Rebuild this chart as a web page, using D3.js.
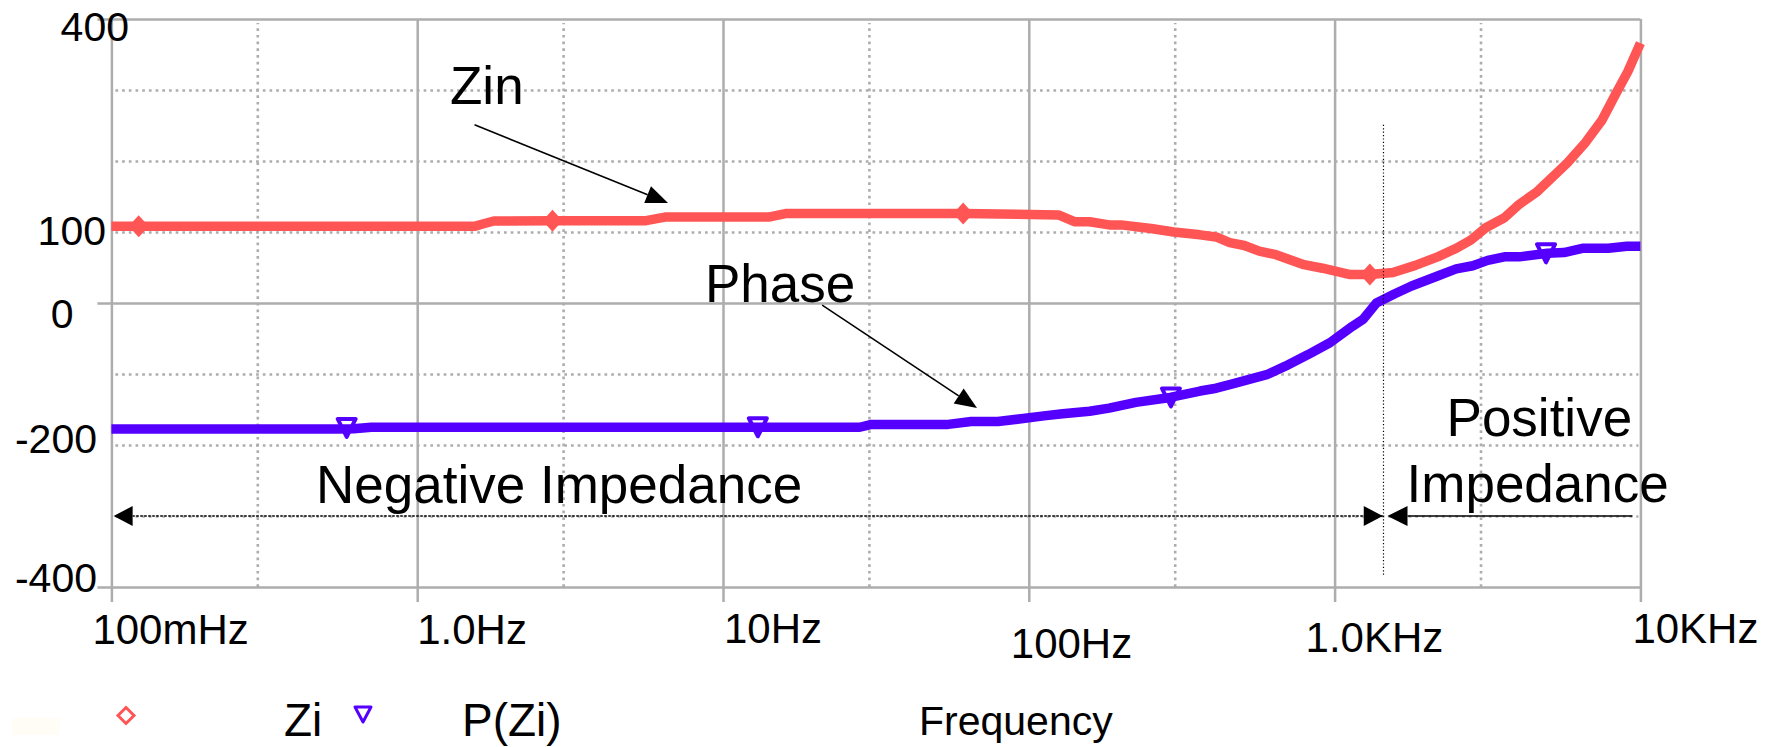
<!DOCTYPE html>
<html>
<head>
<meta charset="utf-8">
<script src="https://cdn.jsdelivr.net/npm/d3@7"></script>
<style>
  body { margin: 0; background: #fff; }
  svg text { font-family: "Liberation Sans", Arial, sans-serif; fill: #000; }
</style>
</head>
<body>
<script>
// sweep frequencies (Hz) and |Zin|
const zinFreq = [0.1, 1.54, 1.66, 1.78, 2.77, 5.6, 6.46, 14.1, 16.0, 61, 125, 141, 158, 183, 200, 251, 298, 363, 410, 454, 507, 567, 643, 794, 913, 1125, 1306, 1552, 1837, 2173, 2497, 2795, 3121, 3591, 4016, 4600, 5760, 6610, 7500, 8270, 9100, 10000];
const zinVal  = [108, 108, 112, 115.5, 116, 116, 121, 121, 126, 126, 124, 114.5, 114.5, 110, 110, 105, 100, 96, 93, 85, 81, 73, 68, 54, 49, 40, 40, 43, 53, 65, 77, 89, 106, 120, 139, 157, 197, 226, 258, 293, 326, 366];

// phase of Zin (deg)
const phaseFreq = [0.1, 0.55, 0.62, 0.708, 28, 30.6, 54.5, 64.8, 79.3, 94.4, 112, 129, 158, 183, 224, 290, 363, 410, 454, 522, 600, 690, 816, 965, 1142, 1240, 1370, 1574, 1785, 2172, 2497, 2831, 3167, 3591, 4016, 4966, 5623, 6461, 7857, 9036, 10000];
const phaseVal  = [-177.5, -177.5, -177, -175, -175, -171, -171, -167, -167, -163, -159, -156, -152.5, -148, -140, -133, -124, -120, -115, -108, -101, -89, -73, -56, -33, -23, 0, 13, 24, 38, 48, 52.5, 60, 65, 65, 70, 71, 77, 77, 80, 80];

// trace markers
const zinMarkFreq = [0.1228, 2.77, 61, 1304];
const zinMarkVal = [108, 116, 126, 40];
const phaseMarkFreq = [0.588, 13.0, 291.6, 4914];
const phaseMarkVal = [-176, -175, -133, 70];

// axes
const xTicks = [0.1, 1, 10, 100, 1000, 10000];
const xTickLabels = ["100mHz", "1.0Hz", "10Hz", "100Hz", "1.0KHz", "10KHz"];
const xMinor = [0.3, 3, 30, 300, 3000];
const yTicks = [400, 100, 0, -200, -400];
const ySolid = [400, 0, -400];
const yDotted = [300, 200, 100, -100, -200, -300];

// where the impedance changes sign
const crossFreq = 1445;

const width = 1782;
const height = 747;
const plotLeft = 111.4, plotRight = 1640.4, plotTop = 19, plotBottom = 587;

const svg = d3.select("body").append("svg")
    .attr("width", width)
    .attr("height", height);

const x = d3.scaleLog().domain([0.1, 10000]).range([plotLeft, plotRight]);
const y = d3.scaleLinear().domain([-400, 400]).range([plotBottom, plotTop]);

const gridColor = "#adadad";
const red = "#ff5555";
const purple = "#5500ff";

// decade lines, they run a bit below the frame as ticks
svg.append("g")
    .attr("transform", `translate(0,${plotBottom + 15})`)
    .call(d3.axisBottom(x).tickValues(xTicks).tickSize(-(plotBottom + 15 - plotTop)).tickFormat(""))
    .call(g => g.select(".domain").remove())
    .selectAll("line").attr("stroke", gridColor).attr("stroke-width", 2.5);

svg.append("g")
    .attr("transform", `translate(0,${plotBottom})`)
    .call(d3.axisBottom(x).tickValues(xMinor).tickSize(-(plotBottom - plotTop - 4)).tickFormat(""))
    .call(g => g.select(".domain").remove())
    .selectAll("line").attr("stroke", gridColor).attr("stroke-width", 2.6)
    .attr("stroke-dasharray", "2.7,4");

svg.append("g")
    .attr("transform", `translate(${plotLeft - 14},0)`)
    .call(d3.axisLeft(y).tickValues(ySolid).tickSize(-(plotRight - plotLeft + 14)).tickFormat(""))
    .call(g => g.select(".domain").remove())
    .selectAll("line").attr("stroke", gridColor).attr("stroke-width", 2.5);

svg.append("g")
    .attr("transform", `translate(${plotLeft + 4},0)`)
    .call(d3.axisLeft(y).tickValues(yDotted).tickSize(-(plotRight - plotLeft - 6)).tickFormat(""))
    .call(g => g.select(".domain").remove())
    .selectAll("line").attr("stroke", gridColor).attr("stroke-width", 2.6)
    .attr("stroke-dasharray", "2.7,4");

// tick labels sit a little irregularly in the original
const yLabelNudge = {"400": [129, 22], "100": [106, 12.5], "0": [73.5, 25], "-200": [97, 8], "-400": [97, 5]};
svg.append("g").selectAll("text")
    .data(yTicks)
    .join("text")
    .attr("x", d => yLabelNudge[d][0])
    .attr("y", d => y(d) + yLabelNudge[d][1])
    .attr("text-anchor", "end")
    .attr("font-size", 41)
    .text(d => d);

const xLabelNudge = {"100mHz": [-19, 644], "1.0Hz": [0, 644], "10Hz": [1, 643], "100Hz": [-18, 658], "1.0KHz": [-29, 652], "10KHz": [-8, 643]};
svg.append("g").selectAll("text")
    .data(xTicks)
    .join("text")
    .attr("x", (d, i) => x(d) + xLabelNudge[xTickLabels[i]][0])
    .attr("y", (d, i) => xLabelNudge[xTickLabels[i]][1])
    .attr("font-size", 42)
    .text((d, i) => xTickLabels[i]);

// markers go under the traces
const zinMarks = zinMarkFreq.map((f, i) => ({f: f, v: zinMarkVal[i]}));
const phaseMarks = phaseMarkFreq.map((f, i) => ({f: f, v: phaseMarkVal[i]}));

svg.append("g").selectAll("path")
    .data(phaseMarks)
    .join("path")
    .attr("transform", d => `translate(${x(d.f)},${y(d.v)})`)
    .attr("d", "M-9,-9L9,-9L0,9Z")
    .attr("fill", "#fff")
    .attr("stroke", purple)
    .attr("stroke-width", 4)
    .attr("stroke-linejoin", "round");

const line = d3.line()
    .x(d => x(d.f))
    .y(d => y(d.v));

const zin = zinFreq.map((f, i) => ({f: f, v: zinVal[i]}));
const phase = phaseFreq.map((f, i) => ({f: f, v: phaseVal[i]}));

svg.append("path")
    .datum(phase)
    .attr("d", line)
    .attr("fill", "none")
    .attr("stroke", purple)
    .attr("stroke-width", 9.5)
    .attr("stroke-linejoin", "round");

svg.append("path")
    .datum(zin)
    .attr("d", line)
    .attr("fill", "none")
    .attr("stroke", red)
    .attr("stroke-width", 9.5)
    .attr("stroke-linejoin", "round");

svg.append("g").selectAll("path")
    .data(zinMarks)
    .join("path")
    .attr("transform", d => `translate(${x(d.f)},${y(d.v)})`)
    .attr("d", "M0,-11L10,0L0,11L-10,0Z")
    .attr("fill", red);

// annotations
function arrowHead(x1, y1, x2, y2, len, half) {
    let a = Math.atan2(y2 - y1, x2 - x1);
    let bx = x2 - len * Math.cos(a), by = y2 - len * Math.sin(a);
    let px = -Math.sin(a) * half, py = Math.cos(a) * half;
    svg.append("path")
        .attr("d", `M${x2},${y2}L${bx + px},${by + py}L${bx - px},${by - py}Z`)
        .attr("fill", "#000");
    return [bx, by];
}

function arrow(f1, v1, f2, v2, len, half, dash) {
    let x1 = x(f1), y1 = y(v1), x2 = x(f2), y2 = y(v2);
    let b = arrowHead(x1, y1, x2, y2, len, half);
    let l = svg.append("line")
        .attr("x1", x1).attr("y1", y1)
        .attr("x2", b[0]).attr("y2", b[1])
        .attr("stroke", "#000")
        .attr("stroke-width", 1.6);
    if (dash) l.attr("stroke-dasharray", dash).attr("stroke-width", 1.3);
}

arrow(1.54, 251, 6.61, 141, 22, 9);
arrow(21.1, -3, 67.7, -148, 22, 9);

// boundary between negative and positive impedance
svg.append("line")
    .attr("x1", x(crossFreq)).attr("x2", x(crossFreq))
    .attr("y1", y(251)).attr("y2", y(-383))
    .attr("stroke", "#000")
    .attr("stroke-width", 1.2)
    .attr("stroke-dasharray", "1.2,2.2");

arrow(1437, -300, 0.1017, -300, 19, 10, "2.5,1.5");
arrowHead(x(0.1017), y(-300), x(1437), y(-300), 19, 10);
arrow(9418, -300, 1489, -300, 20, 10);

const notes = [
    {text: "Zin", f: 1.28, v: 280},
    {text: "Phase", f: 8.73, v: 1},
    {text: "Negative Impedance", f: 0.467, v: -281},
    {text: "Positive", f: 2323, v: -188},
    {text: "Impedance", f: 1719, v: -280}
];
svg.append("g").selectAll("text")
    .data(notes)
    .join("text")
    .attr("x", d => x(d.f))
    .attr("y", d => y(d.v))
    .attr("font-size", 53)
    .text(d => d.text);

// legend row
svg.append("rect")
    .attr("x", 12).attr("y", 718)
    .attr("width", 48).attr("height", 17)
    .attr("fill", "#fffdf6");

svg.append("path")
    .attr("transform", "translate(126,715.5)")
    .attr("d", "M0,-8L8,0L0,8L-8,0Z")
    .attr("fill", "#fff")
    .attr("stroke", red)
    .attr("stroke-width", 3);

svg.append("text")
    .attr("x", 284).attr("y", 736)
    .attr("font-size", 46)
    .text("Zi");

svg.append("path")
    .attr("transform", "translate(363,714)")
    .attr("d", "M-8,-7L8,-7L0,8Z")
    .attr("fill", "#fff")
    .attr("stroke", purple)
    .attr("stroke-width", 3)
    .attr("stroke-linejoin", "round");

svg.append("text")
    .attr("x", 462).attr("y", 736)
    .attr("font-size", 46)
    .text("P(Zi)");

svg.append("text")
    .attr("x", 919).attr("y", 735)
    .attr("font-size", 41)
    .text("Frequency");
</script>
</body>
</html>
